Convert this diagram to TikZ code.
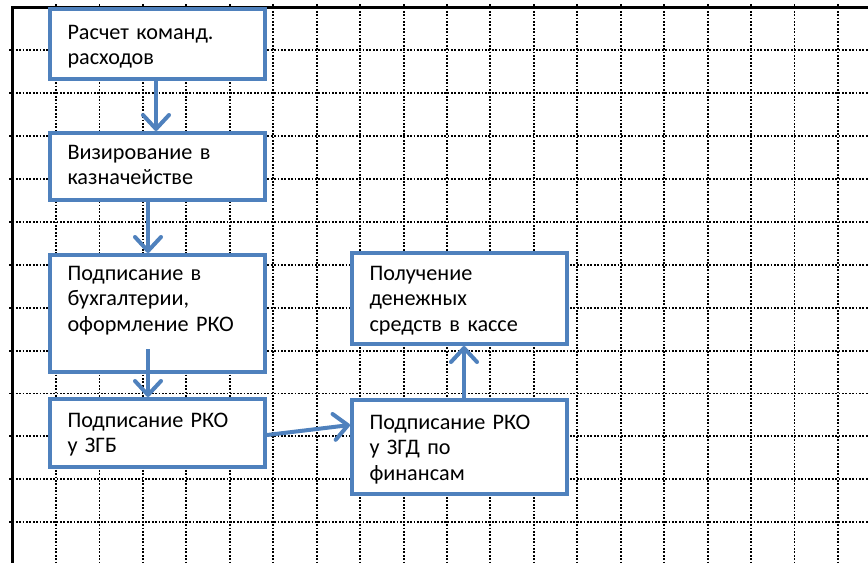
\documentclass[tikz,border=0pt]{standalone}
\usepackage{fontspec}
\setmainfont{Carlito}
\usetikzlibrary{arrows.meta}
\definecolor{boxblue}{RGB}{79,129,189}
\begin{document}
\begin{tikzpicture}[x=1pt,y=-1pt,
  gridline/.style={black,line width=1.9pt,dash pattern=on 1.8pt off 1.6pt},
  frame/.style={black,line width=3pt},
  box/.style={draw=boxblue,fill=white,line width=4pt,anchor=north west,
    inner xsep=17.5pt,inner ysep=0pt,text width=180pt,align=left,
    font=\fontsize{22.2}{25.5}\selectfont,text=black},
  arr/.style={draw=boxblue,line width=4pt,
    -{Straight Barb[length=14pt,width=26pt,round]}}]
\useasboundingbox (0,0) rectangle (868,563);
% grid
\foreach \k in {1,...,19}{
  \draw[gridline] ({12.6+43.44*\k},4) -- ({12.6+43.44*\k},563);}
\foreach \k in {1,...,13}{
  \draw[gridline] (9,{7.4+42.9*\k}) -- (868,{7.4+42.9*\k});}
\draw[frame] (868,7.6) -- (12.6,7.6) -- (12.6,563);
% boxes
\node[box,text height=30pt,text depth=40pt] (b1) at (48,7) {Расчет~команд.\\расходов};
\node[box,text height=26pt,text depth=41pt] (b2) at (48,131) {Визирование~в\\казначействе};
\node[box,text height=25pt,text depth=92pt] (b3) at (48,253) {Подписание~в\\бухгалтерии,\\оформление~РКО};
\node[box,text height=28pt,text depth=40pt] (b4) at (48,397) {Подписание~РКО\\у~ЗГБ};
\node[box,text height=29pt,text depth=65pt] (b5) at (350,398) {Подписание~РКО\\у~ЗГД~по\\финансам};
\node[box,text height=27pt,text depth=64pt] (b6) at (350,251) {Получение\\денежных\\средств~в~кассе};
% connectors
\coordinate (s3) at ([yshift=25pt]b3.south -| 148,0);
\draw[arr] (b1.south -| 156,0) -- (b2.north -| 156,0);
\draw[arr] (b2.south -| 148,0) -- (b3.north -| 148,0);
\draw[arr] (s3) -- (b4.north -| 148,0);
\draw[arr] ([yshift=-2pt]b4.east) -- ([yshift=22pt]b5.west);
\draw[arr] (b5.north -| 464,0) -- (b6.south -| 464,0);
\end{tikzpicture}
\end{document}
